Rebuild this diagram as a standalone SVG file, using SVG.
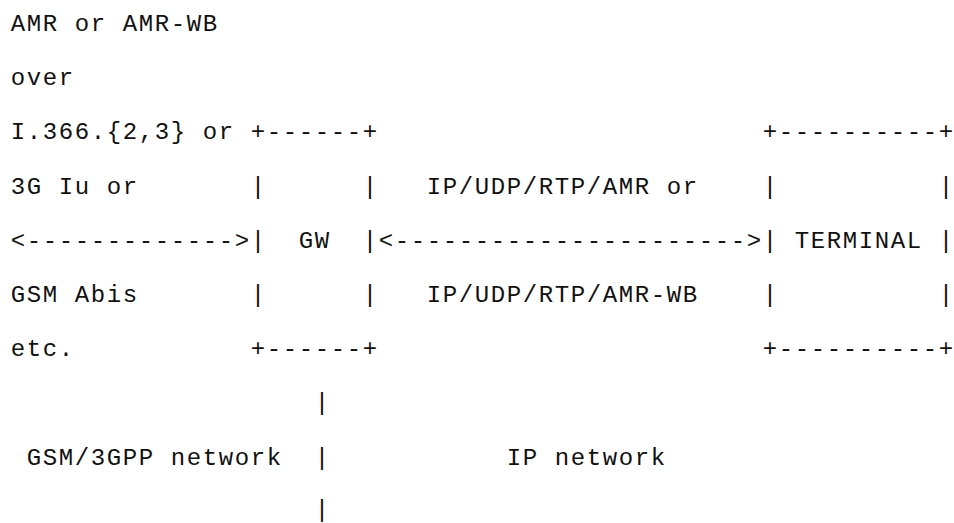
<svg xmlns="http://www.w3.org/2000/svg" width="954" height="523" viewBox="0 0 954 523">
  <style>
    /* 16px character cell: 24px mono glyphs plus 1.6px tracking */
    text { font-family: "Liberation Mono", "Courier New", monospace; font-size: 24px; letter-spacing: 1.6px; fill: #111; white-space: pre; }
  </style>
  <rect width="954" height="523" fill="#ffffff"/>

  <!-- codec / transport notes on the left -->
  <g id="left-notes" transform="translate(0.8 0)">
    <text x="10" y="31">AMR or AMR-WB</text>
    <text x="10" y="85.2">over</text>
    <text x="10" y="139.4">I.366.{2,3} or</text>
    <text x="10" y="193.6">3G Iu or</text>
    <text x="10" y="302">GSM Abis</text>
    <text x="10" y="356.2">etc.</text>
  </g>

  <!-- gateway box (columns 15..22) -->
  <g id="gw" transform="translate(0.8 0)">
    <text x="250" y="139.4">+------+</text>
    <text x="250" y="193.6">|</text>
    <text x="362" y="193.6">|</text>
    <text x="250" y="247.8">|</text>
    <text x="298" y="247.8">GW</text>
    <text x="362" y="247.8">|</text>
    <text x="250" y="302">|</text>
    <text x="362" y="302">|</text>
    <text x="250" y="356.2">+------+</text>
  </g>

  <!-- terminal box (columns 47..58) -->
  <g id="terminal" transform="translate(0.8 0)">
    <text x="762" y="139.4">+----------+</text>
    <text x="762" y="193.6">|</text>
    <text x="938" y="193.6">|</text>
    <text x="762" y="247.8">|</text>
    <text x="794" y="247.8">TERMINAL</text>
    <text x="938" y="247.8">|</text>
    <text x="762" y="302">|</text>
    <text x="938" y="302">|</text>
    <text x="762" y="356.2">+----------+</text>
  </g>

  <!-- links between the parts -->
  <g id="connectors" transform="translate(0.8 0)">
    <text x="10" y="247.8">&lt;-------------&gt;</text>
    <text x="378" y="247.8">&lt;----------------------&gt;</text>
    <text x="426" y="193.6">IP/UDP/RTP/AMR or</text>
    <text x="426" y="302">IP/UDP/RTP/AMR-WB</text>
  </g>

  <!-- network boundary below the gateway -->
  <g id="network-split" transform="translate(0.8 0)">
    <text x="314" y="410.4">|</text>
    <text x="26" y="464.6">GSM/3GPP network</text>
    <text x="314" y="464.6">|</text>
    <text x="506" y="464.6">IP network</text>
    <text x="314" y="516.5">|</text>
  </g>
</svg>
